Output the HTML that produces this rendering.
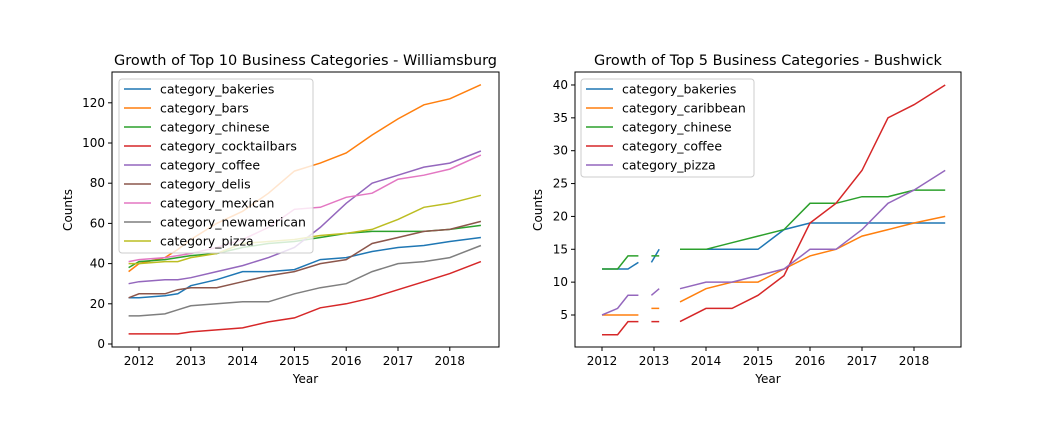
<!DOCTYPE html>
<html><head><meta charset="utf-8"><style>
body{margin:0;background:#fff}
svg{display:block;font-family:"DejaVu Sans","Liberation Sans",sans-serif}
</style></head><body>
<svg id="c" width="1044" height="426" viewBox="0 0 1044 426"></svg>
<script>
const wbYears=[2011.8,2012,2012.5,2012.75,2013,2013.5,2014,2014.5,2015,2015.5,2016,2016.5,2017,2017.5,2018,2018.6];
const wbNames=["category_bakeries","category_bars","category_chinese","category_cocktailbars","category_coffee","category_delis","category_mexican","category_newamerican","category_pizza"];
const wbBakeries=[23,23,24,25,29,32,36,36,37,42,43,46,48,49,51,53];
const wbBars=[36,40,43,47,52,60,66,75,86,90,95,104,112,119,122,129];
const wbChinese=[38,41,42,43,44,45,48,50,51,53,55,56,56,56,57,59];
const wbCocktail=[5,5,5,5,6,7,8,11,13,18,20,23,27,31,35,41];
const wbCoffee=[30,31,32,32,33,36,39,43,48,58,70,80,84,88,90,96];
const wbDelis=[23,25,25,27,28,28,31,34,36,40,42,50,53,56,57,61];
const wbMexican=[41,42,43,44,45,48,52,58,67,68,73,75,82,84,87,94];
const wbNewAm=[14,14,15,17,19,20,21,21,25,28,30,36,40,41,43,49];
const wbPizza=[40,40,41,41,43,45,50,51,52,54,55,57,62,68,70,74];
const wbTicksY=[0,20,40,60,80,100,120];
const bwYears=[2012,2012.3,2012.5,2012.7,2012.8,2012.95,2013.1,2013.25,2013.5,2014,2014.5,2015,2015.5,2016,2016.5,2017,2017.5,2018,2018.6];
const bwNames=["category_bakeries","category_caribbean","category_chinese","category_coffee","category_pizza"];
const bwBakeries=[12,12,12,13,null,13,15,null,15,15,15,15,18,19,19,19,19,19,19];
const bwCaribbean=[5,5,5,5,null,6,6,null,7,9,10,10,12,14,15,17,18,19,20];
const bwChinese=[12,12,14,14,null,14,14,null,15,15,16,17,18,22,22,23,23,24,24];
const bwCoffee=[2,2,4,4,null,4,4,null,4,6,6,8,11,19,22,27,35,37,40];
const bwPizza=[5,6,8,8,null,8,9,null,9,10,10,11,12,15,15,18,22,24,27];
const bwTicksY=[5,10,15,20,25,30,35,40];
const xTicks=[2012,2013,2014,2015,2016,2017,2018];
const colors=["#1f77b4","#ff7f0e","#2ca02c","#d62728","#9467bd","#8c564b","#e377c2","#7f7f7f","#bcbd22"];
const svg=document.getElementById('c');const NS="http://www.w3.org/2000/svg";
function mk(t,a,p){const e=document.createElementNS(NS,t);for(const k in a)e.setAttribute(k,a[k]);(p||svg).appendChild(e);return e;}
function chart(o){
 const g=mk('g',{});
 
 
 const X=v=>o.x0+(v-2012)*o.xs, Y=v=>o.y0-(v-o.yb)*o.ys;
 o.series.forEach((s,i)=>{let d="",pen=false;
  s.forEach((v,j)=>{if(v===null){pen=false;return;}d+=(pen?"L":"M")+X(o.years[j]).toFixed(1)+","+Y(v).toFixed(1);pen=true;});
  const p=mk('path',{d:d,fill:'none',stroke:colors[i],'stroke-width':1.5},g);
  
  });
 const fr=mk('rect',{x:o.L,y:72,width:o.R-o.L,height:275,fill:'none',stroke:'#000','stroke-width':1},g);
 
 xTicks.forEach(t=>{const x=X(t);mk('line',{x1:x,x2:x,y1:347,y2:351,stroke:'#000'},g);
  const tx=mk('text',{x:x,y:365,'font-size':12,'text-anchor':'middle'},g);tx.textContent=t;
  });
 o.ticksY.forEach(t=>{const y=Y(t);mk('line',{x1:o.L-4,x2:o.L,y1:y,y2:y,stroke:'#000'},g);
  const tx=mk('text',{x:o.L-7,y:y+4,'font-size':12,'text-anchor':'end'},g);tx.textContent=t;
  });
 const xt=mk('text',{x:(o.L+o.R)/2,y:383,'font-size':12,'text-anchor':'middle'},g);xt.textContent="Year";
 
 const yt=mk('text',{x:0,y:0,'font-size':12,'text-anchor':'middle',transform:`translate(${o.yl},210) rotate(-90)`},g);yt.textContent="Counts";
 
 const ti=mk('text',{x:(o.L+o.R)/2,y:65,'font-size':14.5,'text-anchor':'middle'},g);ti.textContent=o.title;
 
 const lg=mk('g',{},g);
 
 mk('rect',{x:o.lx,y:79,width:o.lw,height:o.names.length*19+3,rx:3,fill:'#fff','fill-opacity':0.8,stroke:'#ccc'},lg);
 o.names.forEach((n,i)=>{const y=89+i*19;
  mk('line',{x1:o.lx+5,x2:o.lx+32,y1:y,y2:y,stroke:colors[i],'stroke-width':1.5},lg);
  const t=mk('text',{x:o.lx+41,y:y+4.5,'font-size':12.5},lg);t.textContent=n;
  });
}
chart({name:'williamsburg-chart',title:'Growth of Top 10 Business Categories - Williamsburg',L:112,R:499,x0:139,xs:51.8,y0:344,yb:0,ys:40.2/20,
 years:wbYears,names:wbNames,series:[wbBakeries,wbBars,wbChinese,wbCocktail,wbCoffee,wbDelis,wbMexican,wbNewAm,wbPizza],ticksY:wbTicksY,lx:119,lw:194,yl:72});
chart({name:'bushwick-chart',title:'Growth of Top 5 Business Categories - Bushwick',L:575,R:961,x0:602,xs:52,y0:315,yb:5,ys:32.86/5,
 years:bwYears,names:bwNames,series:[bwBakeries,bwCaribbean,bwChinese,bwCoffee,bwPizza],ticksY:bwTicksY,lx:581,lw:173,yl:542});
</script></body></html>
